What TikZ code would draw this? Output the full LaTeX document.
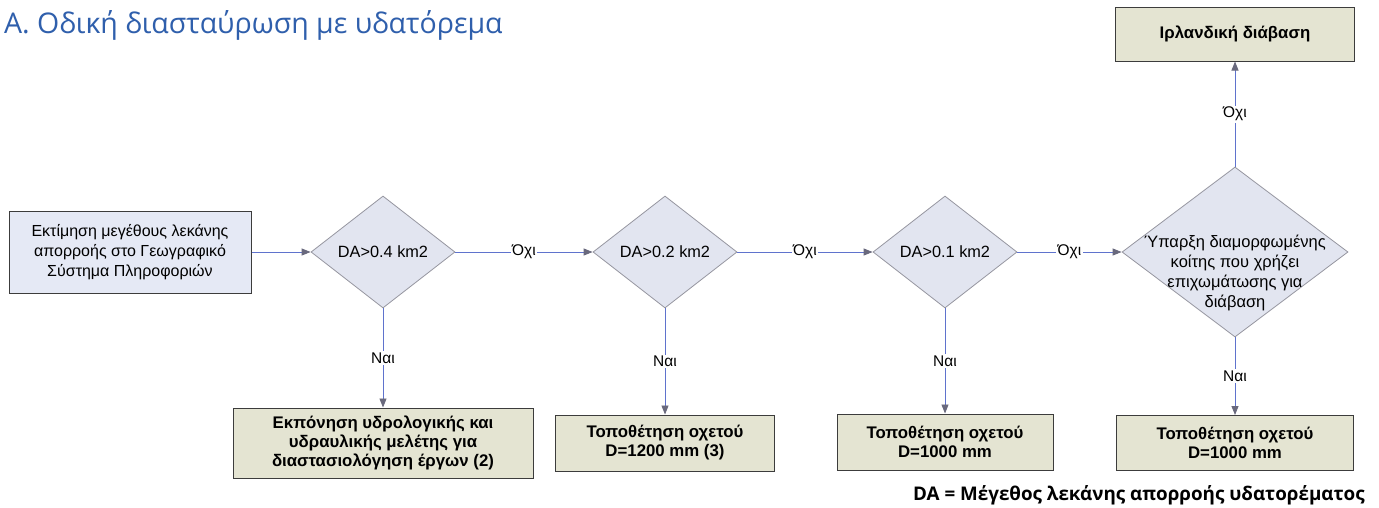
\documentclass[tikz,border=0pt]{standalone}
\usepackage{fontspec}
\setmainfont{Liberation Sans}
\newfontfamily\titlefont{Open Sans}
\usetikzlibrary{shapes.geometric,arrows.meta}
\definecolor{titleblue}{RGB}{47,95,172}
\definecolor{linecol}{RGB}{95,115,205}
\definecolor{tipcol}{RGB}{105,105,125}
\definecolor{diafill}{RGB}{226,229,240}
\definecolor{diaborder}{RGB}{150,150,160}
\definecolor{startfill}{RGB}{229,233,245}
\definecolor{boxfill}{RGB}{228,228,210}
\definecolor{boxborder}{RGB}{60,60,60}
\tikzset{
  startbox/.style={draw=boxborder, line width=1pt, fill=startfill, align=center,
    font=\fontsize{16}{20}\selectfont, inner sep=0pt},
  resbox/.style={draw=boxborder, line width=1pt, fill=boxfill, align=center,
    font=\fontsize{16.8}{19}\selectfont\bfseries, inner sep=0pt},
  dia/.style={shape=diamond, draw=diaborder, line width=0.8pt, fill=diafill, inner sep=0pt,
    align=center, font=\fontsize{16.3}{20}\selectfont},
  dtext/.style={align=center, font=\fontsize{16.5}{20}\selectfont, inner sep=0pt},
  conn/.style={draw=linecol, line width=0.9pt, -{Triangle[length=9pt,width=7pt,color=tipcol]}},
  lbl/.style={fill=white, inner sep=1.5pt, font=\fontsize{15.5}{18}\selectfont}
}
\begin{document}
\begin{tikzpicture}[x=1pt,y=-1pt]
\useasboundingbox[fill=white] (0,0) rectangle (1379,507);

\node[anchor=base west, text=titleblue, inner sep=0pt, font=\titlefont\fontsize{28.5}{32}\selectfont] (title) at (4,33) {Α. Οδική διασταύρωση με υδατόρεμα};

\node[startbox, minimum width=242pt, minimum height=82pt] (start) at (130,252)
  {Εκτίμηση μεγέθους λεκάνης\\απορροής στο Γεωγραφικό\\Σύστημα Πληροφοριών};

\node[dia, minimum width=144pt, minimum height=112pt] (d1) at (383,252) {DA>0.4 km2};
\node[dia, minimum width=144pt, minimum height=112pt] (d2) at (665,252) {DA>0.2 km2};
\node[dia, minimum width=144pt, minimum height=112pt] (d3) at (945,252) {DA>0.1 km2};
\node[dia, minimum width=226pt, minimum height=170pt] (d4) at (1235,252) {};
\node[dtext] (d4t) at (1235,273) {Ύπαρξη διαμορφωμένης\\κοίτης που χρήζει\\επιχωμάτωσης για\\διάβαση};

\node[resbox, minimum width=239pt, minimum height=54pt] (irish) at (1235,34) {Ιρλανδική διάβαση};

\node[resbox, minimum width=300pt, minimum height=70pt] (ba) at (383,443)
  {Εκπόνηση υδρολογικής και\\υδραυλικής μελέτης για\\διαστασιολόγηση έργων (2)};
\node[resbox, minimum width=219pt, minimum height=56pt] (bb) at (665,443)
  {Τοποθέτηση οχετού\\D=1200 mm (3)};
\node[resbox, minimum width=216pt, minimum height=56pt] (bc) at (945,442)
  {Τοποθέτηση οχετού\\D=1000 mm};
\node[resbox, minimum width=237pt, minimum height=55pt] (bd) at (1235,443)
  {Τοποθέτηση οχετού\\D=1000 mm};

\draw[conn] (start.east) -- (d1.west);
\draw[conn] (d1) -- node[lbl] {Όχι} (d2);
\draw[conn] (d2) -- node[lbl] {Όχι} (d3);
\draw[conn] (d3) -- node[lbl] {Όχι} (d4);
\draw[conn] (d4) -- node[lbl] {Όχι} (irish);
\draw[conn] (d1) -- node[lbl] {Ναι} (ba);
\draw[conn] (d2) -- node[lbl] {Ναι} (bb);
\draw[conn] (d3) -- node[lbl] {Ναι} (bc);
\draw[conn] (d4) -- node[lbl] {Ναι} (bd);

\node[anchor=base east, inner sep=0pt, font=\titlefont\bfseries\fontsize{18.8}{22}\selectfont] (note) at (1365,500)
  {DA = Μέγεθος λεκάνης απορροής υδατορέματος};
\end{tikzpicture}
\end{document}
